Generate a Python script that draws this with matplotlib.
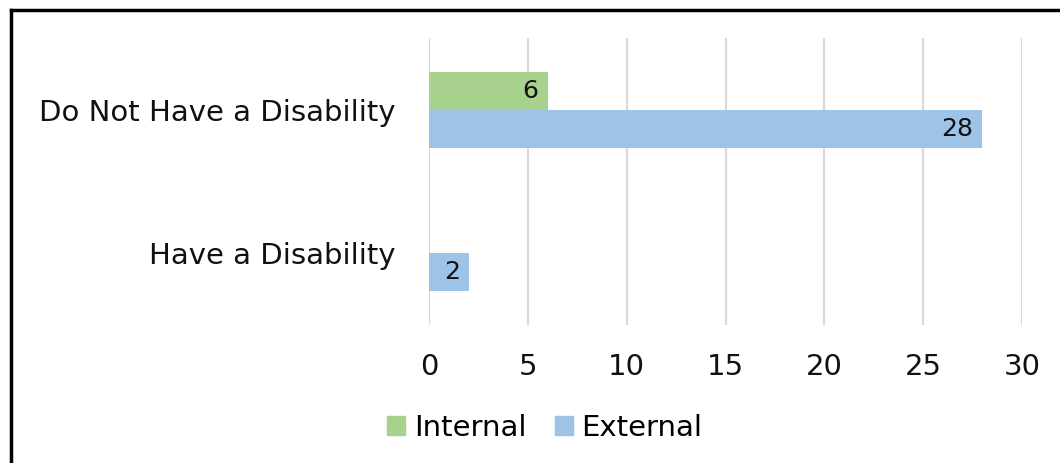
import matplotlib.pyplot as plt
from matplotlib.lines import Line2D
from matplotlib.patches import Patch
import numpy as np

categories = ["Have a Disability", "Do Not Have a Disability"]
internal = [0, 6]
external = [2, 28]
series_names = ["Internal", "External"]
x_ticks = [0, 5, 10, 15, 20, 25, 30]

green = "#a9d18e"
blue = "#9dc3e6"

plt.rcParams["font.family"] = ["DejaVu Sans"]

W, H = 1060, 463
fig = plt.figure(figsize=(W / 100, H / 100), dpi=100)
ax = fig.add_axes([429 / W, 1 - 325 / H, (1022 - 429) / W, (325 - 38) / H])

y = np.arange(len(categories))
h = 0.265
b_int = ax.barh(y + h / 2, internal, height=h, color=green, zorder=3)
b_ext = ax.barh(y - h / 2, external, height=h, color=blue, zorder=3)

for bars, vals in ((b_int, internal), (b_ext, external)):
    for bar, v in zip(bars, vals):
        if v == 0:
            continue
        ax.text(v - 0.45, bar.get_y() + bar.get_height() / 2, str(v),
                ha="right", va="center", fontsize=18, color="#111111", zorder=4)

ax.set_xlim(0, 30)
ax.set_ylim(-0.5, 1.5)
ax.set_xticks(x_ticks)
ax.set_xticklabels([str(t) for t in x_ticks])
ax.set_yticks(y)
ax.set_yticklabels(categories)
ax.tick_params(axis="both", length=0, labelsize=21, colors="#111111")
ax.tick_params(axis="x", pad=20)
ax.tick_params(axis="y", pad=24)
ax.grid(axis="x", color="#d9d9d9", linewidth=1.6, zorder=0)
for s in ax.spines.values():
    s.set_visible(False)

handles = [Patch(color=green), Patch(color=blue)]
fig.legend(handles, series_names, loc="center", bbox_to_anchor=(545 / W, 1 - 428 / H),
           ncol=2, frameon=False, fontsize=21, handlelength=0.6, handleheight=0.6,
           handletextpad=0.3, columnspacing=1.0)

# outer frame lines along the left and top edges
fig.add_artist(Line2D([10.5 / W, 10.5 / W], [0, 1 - 9.5 / H], color="black", linewidth=2.5,
                      transform=fig.transFigure))
fig.add_artist(Line2D([10.5 / W, 1], [1 - 9.5 / H, 1 - 9.5 / H], color="black", linewidth=2.5,
                      transform=fig.transFigure))

fig.savefig("out.png", dpi=100)
